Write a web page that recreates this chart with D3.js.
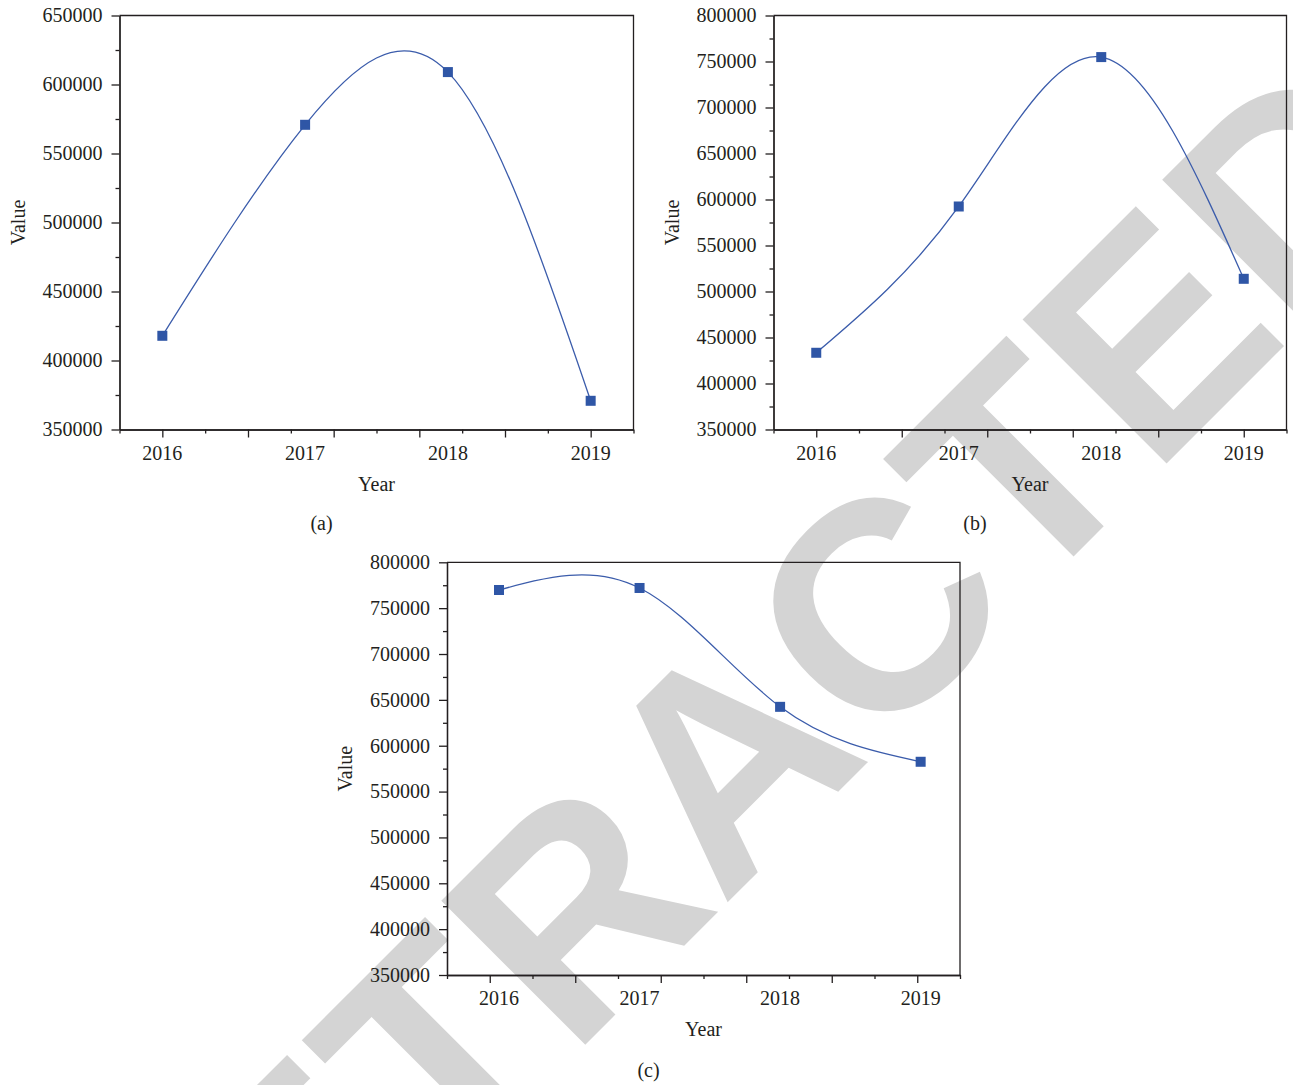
<!DOCTYPE html>
<html>
<head>
<meta charset="utf-8">
<script src="https://cdn.jsdelivr.net/npm/d3@7"></script>
<style>
  body { margin: 0; background: #fff; }
  text { font-family: "Liberation Serif", "Times New Roman", serif; fill: #231f20; }
</style>
</head>
<body>
<div id="chart"></div>
<script>
const years = [2016, 2017, 2018, 2019];

const valuesA = [417900, 570800, 609000, 370800];
const valuesB = [433400, 592400, 754800, 513800];
const valuesC = [769800, 772000, 642400, 582500];

const yTicksA = [350000, 400000, 450000, 500000, 550000, 600000, 650000];
const yTicksBC = [350000, 400000, 450000, 500000, 550000, 600000, 650000, 700000, 750000, 800000];

const panels = [
  {values: valuesA, yTicks: yTicksA, xDomain: [2015.7, 2019.3],
   left: 119.5, right: 633.5, top: 15.5, bottom: 429.5, caption: "(a)", capY: 530},
  {values: valuesB, yTicks: yTicksBC, xDomain: [2015.7, 2019.3],
   left: 773.5, right: 1286.5, top: 15.5, bottom: 429.5, caption: "(b)", capY: 530},
  {values: valuesC, yTicks: yTicksBC, xDomain: [2015.63, 2019.28],
   left: 447, right: 960, top: 562.3, bottom: 975, caption: "(c)", capY: 1077}
];

const lineColor = "#3b5cab";
const markColor = "#2f56a6";
const axisColor = "#231f20";

const svg = d3.select("#chart")
  .append("svg")
  .attr("width", 1293)
  .attr("height", 1085)
  .style("display", "block");

// watermark sits behind the plots
svg.append("text")
  .attr("transform", "translate(798,832) rotate(-45)")
  .attr("text-anchor", "middle")
  .style("font-family", "'Liberation Sans', Arial, sans-serif")
  .style("font-weight", "bold")
  .style("font-size", "296px")
  .style("fill", "#d4d4d4")
  .text("RETRACTED");

function drawPanel(p) {
  const x = d3.scaleLinear().domain(p.xDomain).range([p.left, p.right]);
  const y = d3.scaleLinear()
    .domain([p.yTicks[0], p.yTicks[p.yTicks.length - 1]])
    .range([p.bottom, p.top]);

  const g = svg.append("g");

  // y axis, majors with labels and minors halfway
  const yMinor = d3.range(p.yTicks.length - 1).map(i => (p.yTicks[i] + p.yTicks[i + 1]) / 2);
  const yAx = g.append("g")
    .attr("transform", `translate(${p.left},0)`)
    .call(d3.axisLeft(y).tickValues(p.yTicks).tickSize(8).tickSizeOuter(0)
      .tickPadding(9).tickFormat(d3.format("d")));
  g.append("g")
    .attr("transform", `translate(${p.left},0)`)
    .call(d3.axisLeft(y).tickValues(yMinor).tickSize(4).tickSizeOuter(0).tickFormat(""));

  // x axis: 12 even intervals, long and short ticks alternating
  const xTicks = d3.range(13).map(i => p.xDomain[0] + i * (p.xDomain[1] - p.xDomain[0]) / 12);
  g.append("g")
    .attr("transform", `translate(0,${p.bottom})`)
    .call(d3.axisBottom(x).tickValues(xTicks.filter((d, i) => i % 2 === 1))
      .tickSize(8).tickSizeOuter(0).tickFormat(""));
  g.append("g")
    .attr("transform", `translate(0,${p.bottom})`)
    .call(d3.axisBottom(x).tickValues(xTicks.filter((d, i) => i % 2 === 0))
      .tickSize(4).tickSizeOuter(0).tickFormat(""));

  g.selectAll(".domain, .tick line")
    .attr("stroke", axisColor)
    .attr("stroke-width", 1.3);
  yAx.selectAll("text").style("font-size", "20px").style("font-family", null);

  g.selectAll(".year")
    .data(years)
    .enter()
    .append("text")
    .attr("class", "year")
    .attr("x", d => x(d))
    .attr("y", p.bottom + 30)
    .attr("text-anchor", "middle")
    .style("font-size", "20px")
    .text(d => d);

  // frame top/right
  g.append("path")
    .attr("d", `M${p.left},${p.top}H${p.right}V${p.bottom}`)
    .attr("fill", "none")
    .attr("stroke", axisColor)
    .attr("stroke-width", 1.3);

  // axis titles
  g.append("text")
    .attr("transform", `translate(${p.left - 95},${(p.top + p.bottom) / 2}) rotate(-90)`)
    .attr("text-anchor", "middle")
    .style("font-size", "20px")
    .text("Value");
  g.append("text")
    .attr("x", (p.left + p.right) / 2)
    .attr("y", p.bottom + 61)
    .attr("text-anchor", "middle")
    .style("font-size", "20px")
    .text("Year");
  g.append("text")
    .attr("x", (p.left + p.right) / 2 - 55)
    .attr("y", p.capY)
    .attr("text-anchor", "middle")
    .style("font-size", "20px")
    .text(p.caption);

  // spline + square markers
  const line = d3.line()
    .x((d, i) => x(years[i]))
    .y(d => y(d))
    .curve(d3.curveNatural);

  g.append("path")
    .datum(p.values)
    .attr("d", line)
    .attr("fill", "none")
    .attr("stroke", lineColor)
    .attr("stroke-width", 1.3);

  g.selectAll(".mark")
    .data(p.values)
    .enter()
    .append("rect")
    .attr("class", "mark")
    .attr("x", (d, i) => x(years[i]) - 5)
    .attr("y", d => y(d) - 5)
    .attr("width", 10)
    .attr("height", 10)
    .attr("fill", markColor);
}

panels.forEach(drawPanel);
</script>
</body>
</html>
